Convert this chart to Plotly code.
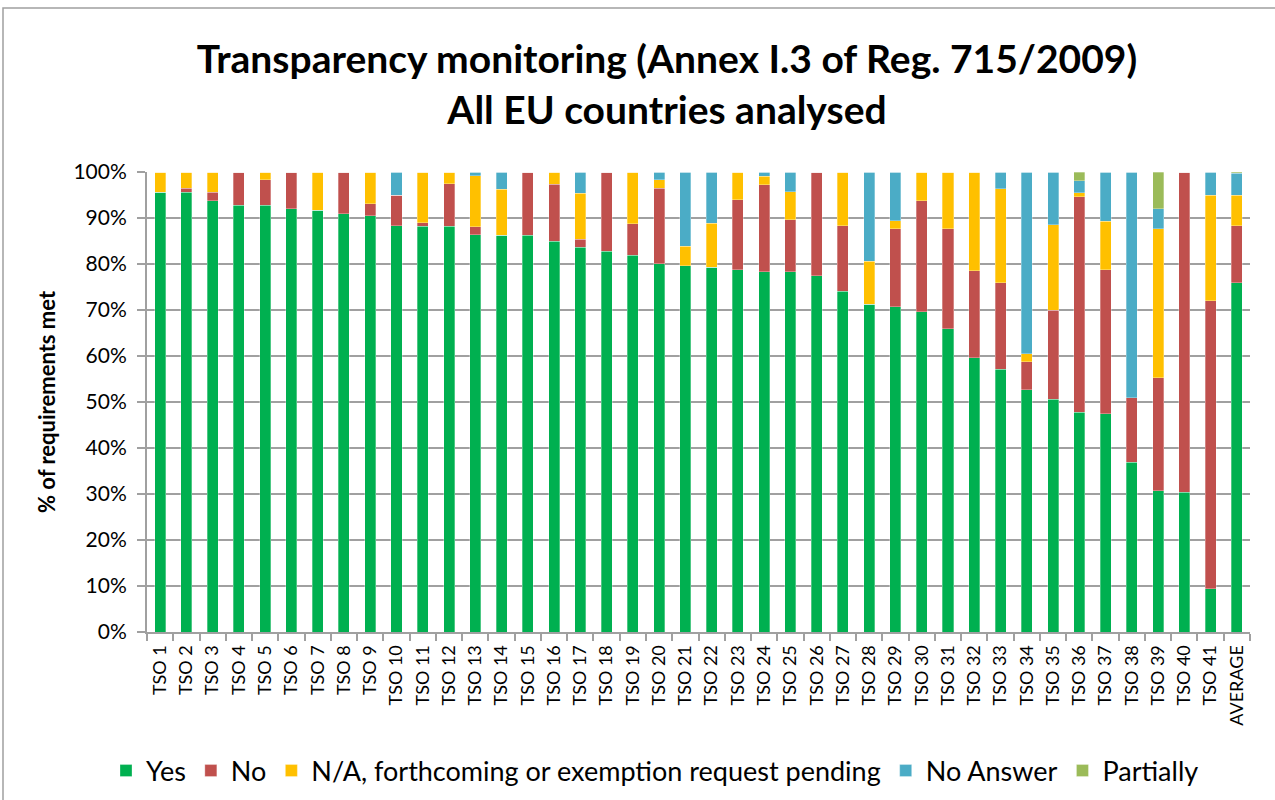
import plotly.graph_objects as go

categories = [f"TSO {i}" for i in range(1, 42)] + ["AVERAGE"]

yes = [95.6, 95.6, 93.8, 92.8, 92.8, 92.0, 91.7, 90.9, 90.5, 88.3,
       88.2, 88.2, 86.4, 86.2, 86.2, 84.9, 83.6, 82.8, 81.9, 80.1,
       79.6, 79.3, 78.7, 78.3, 78.3, 77.5, 74.1, 71.3, 70.7, 69.6,
       65.9, 59.6, 57.1, 52.7, 50.6, 47.8, 47.5, 36.9, 30.7, 30.4,
       9.4, 75.9]
no = [0.0, 0.9, 1.8, 7.2, 5.5, 8.0, 0.0, 9.1, 2.6, 6.6,
      0.8, 9.3, 1.7, 0.0, 13.8, 12.4, 1.8, 17.2, 6.9, 16.4,
      0.0, 0.0, 15.3, 18.9, 11.3, 22.5, 14.2, 0.0, 17.0, 24.2,
      21.8, 18.9, 18.8, 6.0, 19.3, 46.8, 31.2, 14.0, 24.6, 69.6,
      62.6, 12.4]
na = [4.4, 3.5, 4.4, 0.0, 1.7, 0.0, 8.3, 0.0, 6.9, 0.0,
      11.0, 2.5, 11.1, 10.1, 0.0, 2.7, 10.0, 0.0, 11.2, 1.8,
      4.3, 9.6, 6.0, 1.9, 6.1, 0.0, 11.7, 9.3, 1.7, 6.2,
      12.3, 21.5, 20.5, 1.8, 18.6, 0.9, 10.6, 0.0, 32.4, 0.0,
      23.0, 6.7]
no_answer = [0.0, 0.0, 0.0, 0.0, 0.0, 0.0, 0.0, 0.0, 0.0, 5.1,
             0.0, 0.0, 0.8, 3.7, 0.0, 0.0, 4.6, 0.0, 0.0, 1.7,
             16.1, 11.1, 0.0, 0.9, 4.3, 0.0, 0.0, 19.4, 10.6, 0.0,
             0.0, 0.0, 3.6, 39.5, 11.5, 2.6, 10.7, 49.1, 4.3, 0.0,
             5.0, 4.7]
partially = [0.0] * 35 + [1.9, 0.0, 0.0, 8.0, 0.0, 0.0, 0.3]

series = [
    ("Yes", yes, "#00B050"),
    ("No", no, "#C0504D"),
    ("N/A, forthcoming or exemption request pending", na, "#FFC000"),
    ("No Answer", no_answer, "#4BACC6"),
    ("Partially", partially, "#9BBB59"),
]

fig = go.Figure()
for name, vals, color in series:
    fig.add_trace(go.Bar(
        name=name, x=categories, y=[v / 100 for v in vals],
        marker=dict(color=color, line=dict(color="rgba(255,255,255,0.6)", width=0.5)),
    ))

font_family = "Lato, Open Sans, sans-serif"

W, H = 1275, 800
ML, MT = 147, 172
PW, PH = 1103, 460

fig.update_layout(
    width=W, height=H,
    barmode="stack", bargap=0.58,
    paper_bgcolor="white", plot_bgcolor="white",
    margin=dict(l=ML, r=W - ML - PW, t=MT, b=H - MT - PH, autoexpand=False),
    font=dict(family=font_family, color="black"),
    title=dict(
        text="<b>Transparency monitoring (Annex I.3 of Reg. 715/2009)<br>All EU countries analysed</b>",
        x=667 / W, xanchor="center", y=1 - 73 / H, yanchor="middle",
        font=dict(size=39, family=font_family),
    ),
    legend=dict(
        orientation="h", x=(655 - ML) / PW, xanchor="center",
        y=(MT + PH - 771) / PH, yanchor="middle",
        font=dict(size=27), traceorder="normal", itemwidth=30,
    ),
    showlegend=True,
)

fig.update_yaxes(
    range=[0, 1], tickformat=".0%", dtick=0.1,
    showgrid=True, gridcolor="#a0a0a0", gridwidth=2,
    showline=True, linecolor="#a0a0a0", linewidth=2,
    ticks="outside", ticklen=8, tickcolor="#a0a0a0", tickwidth=2,
    tickfont=dict(size=21), ticklabelstandoff=6, automargin=False,
    title=dict(text="<b>% of requirements met</b>", font=dict(size=22), standoff=12),
)
fig.update_xaxes(
    tickangle=-90, tickfont=dict(size=18), ticklabelstandoff=4, automargin=False,
    showline=True, linecolor="#a0a0a0", linewidth=2,
    ticks="outside", tickson="boundaries", ticklen=7, tickcolor="#a0a0a0", tickwidth=2,
)

fig.add_shape(
    type="rect", xref="paper", yref="paper",
    x0=(3 - ML) / PW, x1=(1290 - ML) / PW, y0=-0.5, y1=1 + (MT - 8) / PH,
    line=dict(color="#a0a0a0", width=1.5), fillcolor="rgba(0,0,0,0)", layer="below",
)

fig.write_html("out.html", config={"displayModeBar": False},
               post_script="document.body.style.margin='0px';")
